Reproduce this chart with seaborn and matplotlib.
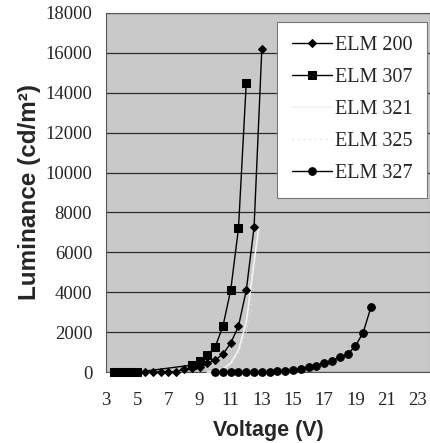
import numpy as np
import pandas as pd
import matplotlib
matplotlib.use("Agg")
import matplotlib.pyplot as plt
import seaborn as sns

# ---- data ----
v200 = [5.5, 6, 6.5, 7, 7.5, 8, 8.5, 9, 9.5, 10, 10.5, 11, 11.5, 12, 12.5, 13]
l200 = [0, 0, 0, 10, 30, 150, 200, 270, 450, 600, 900, 1450, 2300, 4100, 7250, 16200]

v307 = [3.5, 4, 4.5, 5, 8.5, 9, 9.5, 10, 10.5, 11, 11.5, 12]
l307 = [0, 0, 0, 0, 350, 550, 850, 1250, 2300, 4100, 7200, 14500]

v321 = [9.5, 10, 10.5, 11, 11.5, 12, 12.5, 12.8]
l321 = [0, 40, 150, 450, 1100, 2500, 5500, 7200]

v325 = [9.5, 10, 10.5, 11, 11.5, 12, 12.5]
l325 = [0, 30, 120, 350, 900, 2000, 4200]

v327 = [10, 10.5, 11, 11.5, 12, 12.5, 13, 13.5, 14, 14.5, 15, 15.5, 16, 16.5,
        17, 17.5, 18, 18.5, 19, 19.5, 20]
l327 = [0, 0, 0, 0, 0, 10, 20, 30, 50, 80, 120, 180, 250, 330,
        470, 570, 750, 900, 1300, 1980, 3250]

series_names = ["ELM 200", "ELM 307", "ELM 321", "ELM 325", "ELM 327"]
x_ticks = [3, 5, 7, 9, 11, 13, 15, 17, 19, 21, 23]
y_ticks = [0, 2000, 4000, 6000, 8000, 10000, 12000, 14000, 16000, 18000]

sns.set_style("white")
plt.rcParams["font.family"] = ["Liberation Serif", "DejaVu Serif"]

fig = plt.figure(figsize=(4.31, 4.43), dpi=100)
ax = fig.add_axes([0.246, 0.160, 0.752, 0.811])
ax.set_facecolor("#c9c9c9")

styles = [
    (v200, l200, dict(color="black", marker="D", markersize=4.0, linewidth=1.0, zorder=5)),
    (v307, l307, dict(color="black", marker="s", markersize=5.5, linewidth=1.0, zorder=4)),
    (v321, l321, dict(color="#f4f4f4", marker=None, linewidth=1.2, zorder=3)),
    (v325, l325, dict(color="#dedede", marker=None, linewidth=1.0, linestyle=(0, (1, 3)), zorder=3)),
    (v327, l327, dict(color="black", marker="o", markersize=5.5, linewidth=1.0, zorder=4)),
]

for name, (vx, ly, kw) in zip(series_names, styles):
    df = pd.DataFrame({"Voltage": vx, "Luminance": ly})
    sns.lineplot(data=df, x="Voltage", y="Luminance", ax=ax, label=name,
                 markeredgecolor=kw["color"], clip_on=False, sort=True, **kw)

ax.set_xlim(3, 23.8)
ax.set_ylim(0, 18000)
ax.set_xticks(x_ticks)
ax.set_yticks(y_ticks)
ax.tick_params(axis="both", length=0, labelsize=13.5)
ax.tick_params(axis="x", pad=14)
ax.tick_params(axis="y", pad=10)

ax.yaxis.grid(True, color="#2a2a2a", linewidth=0.9)
ax.xaxis.grid(False)
ax.set_axisbelow(True)
for s in ax.spines.values():
    s.set_color("#555555")
    s.set_linewidth(0.8)

ax.set_xlabel("Voltage (V)", fontsize=15.5, fontweight="bold",
              family="Liberation Sans", labelpad=8)
ax.set_ylabel("Luminance (cd/m²)", fontsize=17.5, fontweight="bold",
              family="Liberation Sans", labelpad=3)

leg = ax.legend(loc="upper right", bbox_to_anchor=(0.991, 0.975),
                fontsize=14.5, frameon=True, fancybox=False, framealpha=1,
                edgecolor="#777777", facecolor="white",
                handlelength=2.0, handletextpad=0.15, labelspacing=0.64,
                borderpad=0.72, borderaxespad=0.0)
leg.get_frame().set_linewidth(0.8)

fig.savefig("out.png", dpi=100)
